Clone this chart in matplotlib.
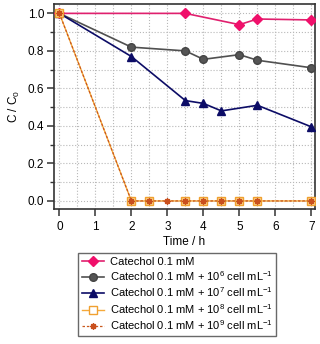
import matplotlib
matplotlib.use("Agg")
import matplotlib.pyplot as plt
from matplotlib.ticker import MultipleLocator

plt.rcParams['font.family'] = ['Liberation Sans', 'DejaVu Sans']
plt.rcParams['mathtext.default'] = 'regular'

t0 = [0, 3.5, 5, 5.5, 7]
c0 = [1.0, 1.0, 0.94, 0.97, 0.965]
t6 = [0, 2, 3.5, 4, 5, 5.5, 7]
c6 = [1.0, 0.82, 0.80, 0.755, 0.78, 0.75, 0.71]
t7 = [0, 2, 3.5, 4, 4.5, 5.5, 7]
c7 = [1.0, 0.77, 0.535, 0.52, 0.48, 0.51, 0.395]
t8 = [0, 2, 2.5, 3.5, 4, 4.5, 5, 5.5, 7]
c8 = [1.0, 0, 0, 0, 0, 0, 0, 0, 0]
t9 = [0, 2, 2.5, 3, 3.5, 4, 4.5, 5, 5.5, 7]
c9 = [1.0, 0, 0, 0, 0, 0, 0, 0, 0, 0]

labels = ['Catechol 0.1 mM',
          'Catechol 0.1 mM + 10$^{6}$ cell mL$^{-1}$',
          'Catechol 0.1 mM + 10$^{7}$ cell mL$^{-1}$',
          'Catechol 0.1 mM + 10$^{8}$ cell mL$^{-1}$',
          'Catechol 0.1 mM + 10$^{9}$ cell mL$^{-1}$']

fig = plt.figure(figsize=(3.2, 3.44), dpi=100)
ax = fig.add_axes([54/320, 1-209/344, (315-54)/320, (209-4)/344])

ax.grid(True, which='both', linestyle=':', color='#b8b8b8', linewidth=0.8)
ax.set_axisbelow(True)

h0, = ax.plot(t0, c0, '-', color='#e0206e', lw=1.2, marker='D', ms=5.5,
              mfc='#f0106b', mec='#f0106b', label=labels[0], zorder=3)
h6, = ax.plot(t6, c6, '-', color='#505050', lw=1.2, marker='o', ms=5.5,
              mfc='#555555', mec='#444444', label=labels[1], zorder=3)
h7, = ax.plot(t7, c7, '-', color='#0c0c66', lw=1.2, marker='^', ms=6,
              mfc='#0c0c66', mec='#0c0c66', label=labels[2], zorder=3)
h8, = ax.plot(t8, c8, '-', color='#f5a93a', lw=1.0, marker='s', ms=5.5,
              mfc='#fcd98f', mec='#f0a030', mew=1.0, label=labels[3], zorder=3)
h9, = ax.plot(t9, c9, '--', color='#c9581e', lw=0.9, marker=(8, 2, 0), ms=4.5,
              mfc='#c9501e', mec='#c9501e', mew=1.0, dashes=(2, 1.5),
              label=labels[4], zorder=4)

ax.set_xlim(-0.15, 7.1)
ax.set_ylim(-0.043, 1.05)
ax.xaxis.set_major_locator(MultipleLocator(1))
ax.xaxis.set_minor_locator(MultipleLocator(0.5))
ax.yaxis.set_major_locator(MultipleLocator(0.2))
ax.yaxis.set_minor_locator(MultipleLocator(0.1))
ax.tick_params(axis='x', which='minor', length=0)
ax.tick_params(axis='both', which='major', direction='out', length=5, width=1.1,
               color='#333333', labelsize=8.5, pad=2)
ax.tick_params(axis='x', which='major', pad=4)
ax.tick_params(axis='y', which='minor', direction='out', length=3, width=1.0,
               color='#333333')
for s in ax.spines.values():
    s.set_color('#333333')
    s.set_linewidth(1.2)

ax.set_xlabel('Time / h', fontsize=8.5, labelpad=2)
ax.set_ylabel('C / C$_0$', fontsize=8.5, labelpad=4)

leg = fig.legend(handles=[h0, h6, h7, h8, h9], loc='upper left',
                 bbox_to_anchor=(78/320, 1-253/344), fontsize=8,
                 frameon=True, fancybox=False, edgecolor='#444444',
                 handlelength=2.0, handletextpad=0.5, labelspacing=0.22,
                 borderpad=0.35, borderaxespad=0)
leg.get_frame().set_linewidth(1.0)
leg.legend_handles[3].set_markerfacecolor('white')

fig.savefig('out.png', dpi=100)
